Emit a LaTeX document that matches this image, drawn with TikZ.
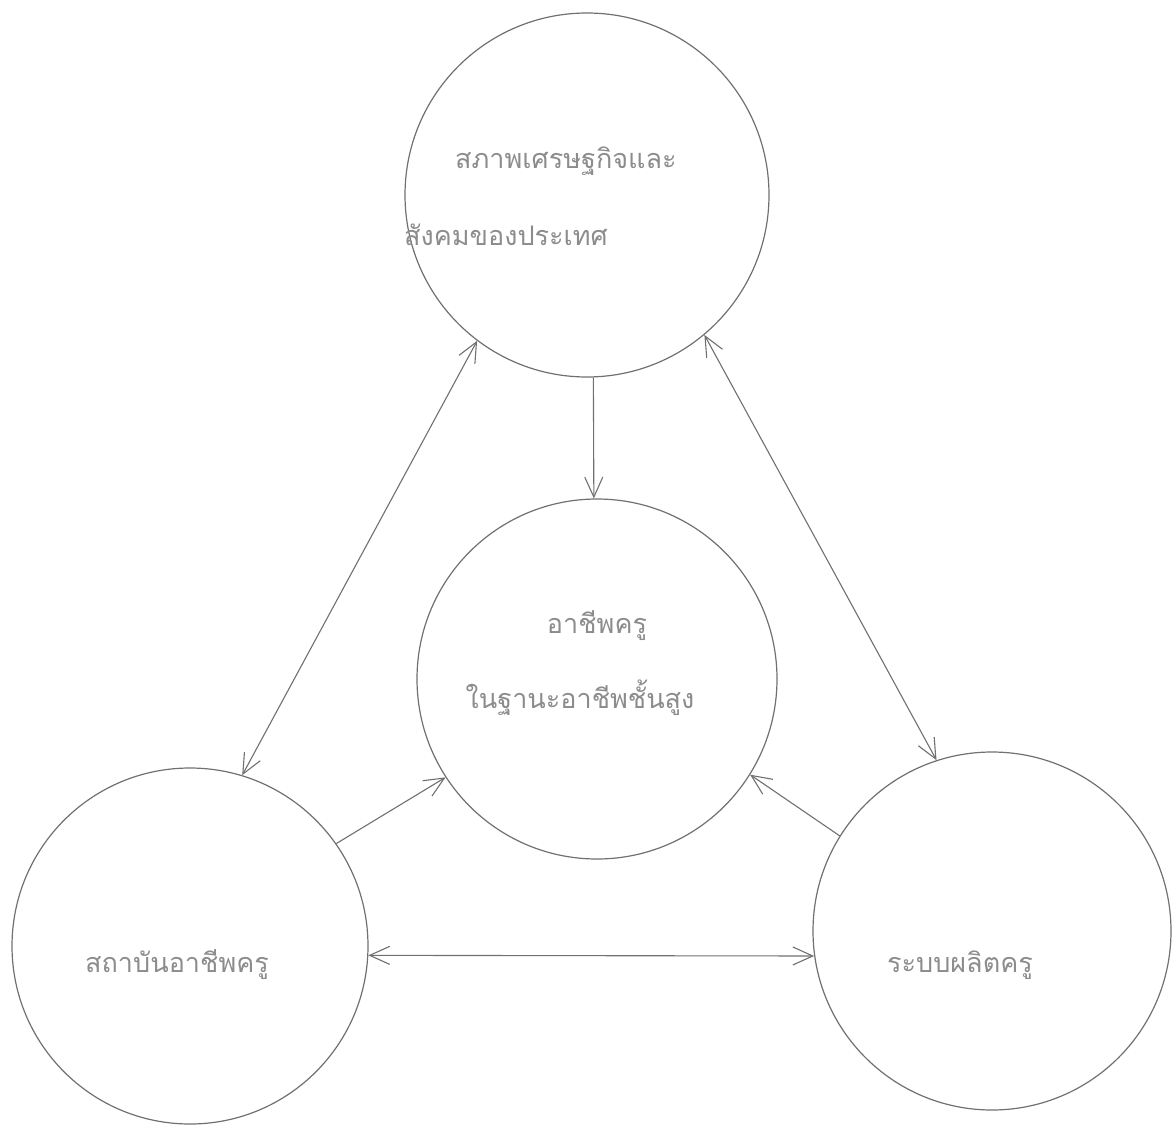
\documentclass[tikz,border=0pt]{standalone}
\usepackage{fontspec}
\newfontfamily\thaifont[Script=Thai]{Loma}
\usetikzlibrary{arrows.meta}
\definecolor{pencil}{HTML}{707070}
\definecolor{inkgray}{HTML}{8c8c8c}

\begin{document}
\begin{tikzpicture}[x=1pt, y=-1pt]

        \useasboundingbox (0, 0) rectangle (1175, 1132);
        \tikzset{
            bubble/.style = {draw = pencil, line width = 1.2pt, circle, minimum size = #1, inner sep = 0pt},
            thaitext/.style = {text = inkgray, font = \thaifont\fontsize{27}{32}\selectfont, inner sep = 0pt},
            link/.style = {draw = pencil, line width = 1.1pt, > = {Straight Barb[length = 20pt, width = 18pt]}}
        }

        % Circles
        \node [bubble = 364pt] (econ) at (587, 195) {};
        \node [bubble = 360pt] (career) at (597, 679) {};
        \node [bubble = 356pt] (inst) at (190, 946) {};
        \node [bubble = 358pt] (prod) at (992, 931) {};

        % Texts
        \node [thaitext, anchor = base west] (econa) at (455, 168) {สภาพเศรษฐกิจและ};
        \node [thaitext, anchor = base west] (econb) at (404, 245) {สังคมของประเทศ};
        \node [thaitext, anchor = base] (careera) at (597, 633) {อาชีพครู};
        \node [thaitext, anchor = base] (careerb) at (580, 708) {ในฐานะอาชีพชั้นสูง};
        \node [thaitext, anchor = base] (insta) at (177, 972) {สถาบันอาชีพครู};
        \node [thaitext, anchor = base] (proda) at (960, 972) {ระบบผลิตครู};

        % Connectors
        \draw [link, ->] (econ.-88.4) -- (career.91.6);
        \draw [link, <->] (econ.233.6) -- (inst.73.4);
        \draw [link, <->] (econ.-50) -- (prod.108);
        \draw [link, ->] (inst.35) -- (career.213);
        \draw [link, ->] (prod.148) -- (career.-32.6);
        \draw [link, <->] (inst.-3) -- (prod.188.6);

\end{tikzpicture}
\end{document}
